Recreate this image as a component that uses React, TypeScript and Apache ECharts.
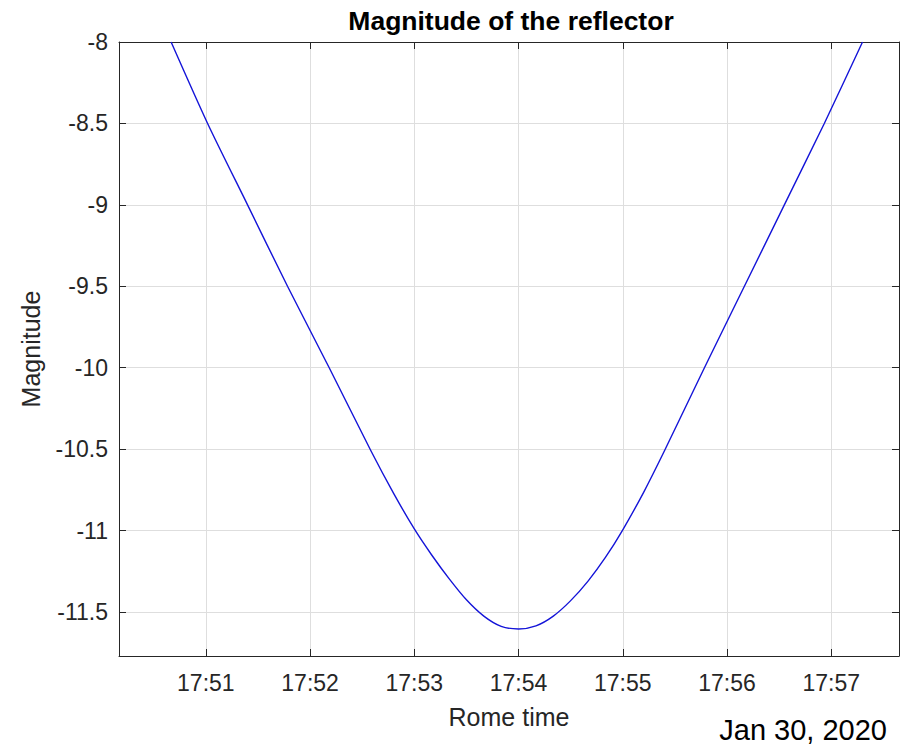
import React, { useEffect, useRef } from "react";
import * as echarts from "echarts";

// Rome time (HH:MM:SS) and magnitude
const times: string[] = [
  "17:50:40", "17:51:01", "17:51:24", "17:51:47", "17:52:11", "17:52:35",
  "17:52:48", "17:53:00", "17:53:10", "17:53:20", "17:53:30", "17:53:40",
  "17:53:50", "17:54:00", "17:54:10", "17:54:20", "17:54:30", "17:54:40",
  "17:54:50", "17:55:00", "17:55:12", "17:55:24", "17:55:47", "17:56:10",
  "17:56:33", "17:56:56", "17:57:18",
];
const magnitudes: number[] = [
  -8.0, -8.5, -9.0, -9.5, -10.0, -10.51,
  -10.77, -10.99, -11.15, -11.295, -11.425, -11.525,
  -11.588, -11.604, -11.585, -11.525, -11.43, -11.31,
  -11.165, -10.995, -10.765, -10.51, -10.0, -9.5,
  -9.0, -8.5, -8.0,
];
const xRange: string[] = ["17:50:10", "17:57:39"];
const yRange: number[] = [-11.77, -8];

const titleText = "Magnitude of the reflector";
const xName = "Rome time";
const yName = "Magnitude";
const dateText = "Jan 30, 2020";

const toMin = (t: string) => {
  const [h, m, s] = t.split(":").map(Number);
  return (h - 17) * 60 + m + s / 60;
};

export default function App() {
  const ref = useRef<HTMLDivElement>(null);
  useEffect(() => {
    document.body.style.margin = "0";
    if (!ref.current) return;
    const chart = echarts.init(ref.current, null, { renderer: "svg" });
    const font = "'Liberation Sans', Arial, Helvetica, sans-serif";
    const dark = "#262626";
    const xMin = toMin(xRange[0]);
    const xMax = toMin(xRange[1]);
    const xFmt = (v: number) => {
      if (Math.abs(v - Math.round(v)) > 1e-6) return "";
      const mm = Math.round(v);
      return `17:${mm < 10 ? "0" + mm : mm}`;
    };
    const yFmt = (v: number) => {
      if (Math.abs(v * 2 - Math.round(v * 2)) > 1e-6) return "";
      return String(Math.round(v * 2) / 2);
    };
    const xCommon = {
      type: "value" as const,
      min: xMin,
      max: xMax,
      splitNumber: 7,
      minInterval: 1,
      maxInterval: 1,
    };
    const yCommon = {
      type: "value" as const,
      min: yRange[0],
      max: yRange[1],
      splitNumber: 7,
      minInterval: 0.5,
      maxInterval: 0.5,
    };
    chart.setOption({
      animation: false,
      grid: { left: 119, right: 8, top: 42, bottom: 93, show: false },
      xAxis: [
        {
          ...xCommon,
          position: "bottom",
          axisLine: { show: true, onZero: false, lineStyle: { color: dark, width: 1 } },
          axisTick: { show: true, inside: true, length: 7, lineStyle: { color: dark } },
          axisLabel: { formatter: xFmt, color: dark, fontSize: 23, fontFamily: font, margin: 15 },
          splitLine: { show: true, lineStyle: { color: "#dedede", width: 1 } },
        },
        {
          ...xCommon,
          position: "top",
          axisLine: { show: true, onZero: false, lineStyle: { color: dark, width: 1 } },
          axisTick: { show: true, inside: true, length: 7, lineStyle: { color: dark } },
          axisLabel: { show: false },
          splitLine: { show: false },
        },
      ],
      yAxis: [
        {
          ...yCommon,
          position: "left",
          axisLine: { show: true, onZero: false, lineStyle: { color: dark, width: 1 } },
          axisTick: { show: true, inside: true, length: 7, lineStyle: { color: dark } },
          axisLabel: { formatter: yFmt, color: dark, fontSize: 23, fontFamily: font, margin: 11 },
          splitLine: { show: true, lineStyle: { color: "#dedede", width: 1 } },
        },
        {
          ...yCommon,
          position: "right",
          axisLine: { show: true, onZero: false, lineStyle: { color: dark, width: 1 } },
          axisTick: { show: true, inside: true, length: 7, lineStyle: { color: dark } },
          axisLabel: { show: false },
          splitLine: { show: false },
        },
      ],
      series: [
        {
          type: "line",
          xAxisIndex: 0,
          yAxisIndex: 0,
          data: times.map((t, i) => [toMin(t), magnitudes[i]]),
          showSymbol: false,
          smooth: 0.25,
          lineStyle: { color: "#1414d8", width: 1.4 },
          z: 5,
        },
      ],
      graphic: [
        {
          type: "text",
          x: 511,
          y: 21,
          style: {
            text: titleText,
            font: `bold 26.5px ${font}`,
            fill: "#000",
            align: "center",
            verticalAlign: "middle",
          },
        },
        {
          type: "text",
          x: 509,
          y: 717,
          style: {
            text: xName,
            font: `25px ${font}`,
            fill: dark,
            align: "center",
            verticalAlign: "middle",
          },
        },
        {
          type: "text",
          x: 31,
          y: 349,
          rotation: Math.PI / 2,
          style: {
            text: yName,
            font: `25px ${font}`,
            fill: dark,
            align: "center",
            verticalAlign: "middle",
          },
        },
        {
          type: "text",
          x: 887,
          y: 730,
          style: {
            text: dateText,
            font: `29px ${font}`,
            fill: "#000",
            align: "right",
            verticalAlign: "middle",
          },
        },
      ],
    });
    return () => chart.dispose();
  }, []);
  return <div ref={ref} style={{ width: 907, height: 749 }} />;
}
